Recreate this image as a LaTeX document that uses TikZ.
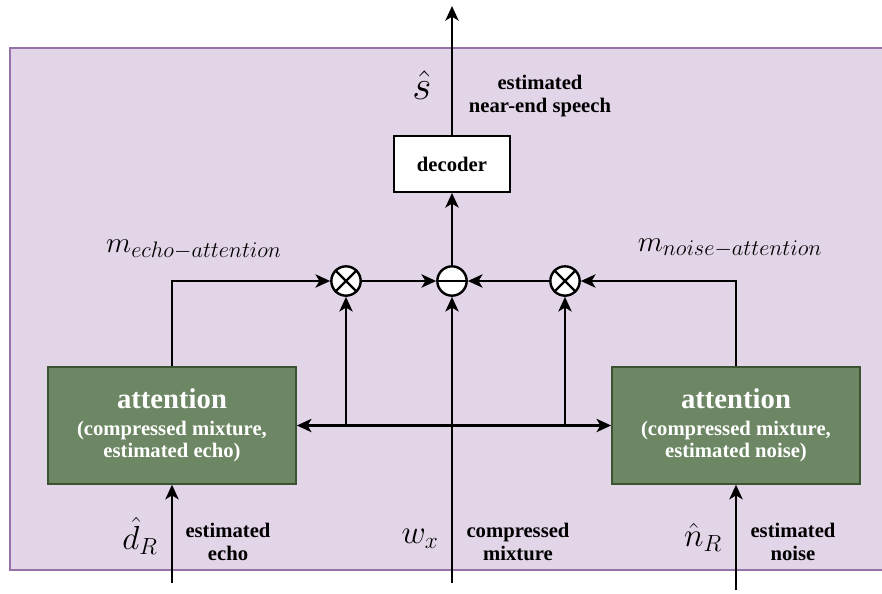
\RequirePackage{fix-cm}
\documentclass[tikz,border=0pt]{standalone}
\usepackage{fontspec}
\setmainfont{Liberation Serif}
\usetikzlibrary{arrows.meta}

% math sizes for the formula labels
\DeclareMathSizes{22}{22}{16.8}{12}
\DeclareMathSizes{25}{25}{17.5}{12.5}
\DeclareMathSizes{31}{31}{22}{16}

\definecolor{bgfill}{HTML}{E1D5E7}
\definecolor{bgline}{HTML}{9673A6}
\definecolor{attfill}{HTML}{6D8764}
\definecolor{attline}{HTML}{3A5431}

\tikzset{
  wire/.style={line width=1.6pt, black},
  arr/.style={wire, -{Stealth[length=11pt,width=10pt,inset=3pt]}},
  arrboth/.style={wire, {Stealth[length=11pt,width=10pt,inset=3pt]}-{Stealth[length=11pt,width=10pt,inset=3pt]}},
  opnode/.style={circle, draw=black, fill=white, line width=1.8pt, minimum size=22pt, inner sep=0pt},
  txt/.style={font=\bfseries\fontsize{15.5}{17}\selectfont, align=center, inner sep=0pt},
  mathlbl/.style={font=\fontsize{25}{27}\selectfont, inner sep=0pt, anchor=base},
  decbox/.style={draw=black, fill=white, line width=1.4pt, minimum width=87pt, minimum height=42pt,
    font=\bfseries\fontsize{15.5}{17}\selectfont},
  attbox/.style={draw=attline, fill=attfill, line width=1.3pt, minimum width=186pt, minimum height=87.5pt,
    text=white, align=center, inner sep=0pt, font=\bfseries\fontsize{15.5}{17}\selectfont}
}

\begin{document}
\begin{tikzpicture}[x=0.75pt, y=-0.75pt]
  \useasboundingbox (0,0) rectangle (882,593);

  % background panel
  \draw[draw=bgline, fill=bgfill, line width=1.6pt] (10,48) rectangle (886,570);

  % blocks
  \node[decbox] (dec) at (452,164) {decoder};
  \node[attbox] (attL) at (172,425.5)
    {{\fontsize{21.5}{20}\selectfont attention}\\[3pt](compressed mixture,\\estimated echo)};
  \node[attbox] (attR) at (736,425.5)
    {{\fontsize{21.5}{20}\selectfont attention}\\[3pt](compressed mixture,\\estimated noise)};

  % operator circles
  \node[opnode] (mulL) at (346,281) {};
  \node[opnode] (sub)  at (452,281) {};
  \node[opnode] (mulR) at (565,281) {};
  \draw[line width=1.8pt] (mulL.45) -- (mulL.225) (mulL.135) -- (mulL.315);
  \draw[line width=1.8pt] (mulR.45) -- (mulR.225) (mulR.135) -- (mulR.315);
  \draw[line width=1.8pt] (sub.west) -- (sub.east);

  % free ends of the inputs and the output
  \coordinate (out) at (452,6);
  \coordinate (inD) at (172,583);
  \coordinate (inW) at (452,583);
  \coordinate (inN) at (736,590);

  % connectors
  \draw[arr] (dec.north) -- (out);
  \draw[arr] (sub.north) -- (dec.south);
  \draw[arr] (mulL.east) -- (sub.west);
  \draw[arr] (mulR.west) -- (sub.east);
  \draw[arr] (attL.north) |- (mulL.west);
  \draw[arr] (attR.north) |- (mulR.east);
  \draw[arrboth] (attL.east) -- (attR.west);
  \draw[arr] (mulL.south |- attL.east) -- (mulL.south);
  \draw[arr] (mulR.south |- attR.west) -- (mulR.south);
  \draw[arr] (inW) -- (sub.south);
  \draw[arr] (inD) -- (attL.south);
  \draw[arr] (inN) -- (attR.south);

  % labels
  \node[mathlbl, font=\fontsize{31}{33}\selectfont] (lblS) at (422,99) {$\hat{s}$};
  \node[txt] (lblOut) at (540,96) {estimated\\near-end speech};
  \node[mathlbl, font=\fontsize{22}{24}\selectfont] (lblME) at (194,252) {$m_{echo\mathord{-}attention}$};
  \node[mathlbl, font=\fontsize{22}{24}\selectfont] (lblMN) at (730,251) {$m_{noise\mathord{-}attention}$};
  \node[mathlbl] (lblD) at (140,549) {$\hat{d}_R$};
  \node[txt] (lblDt) at (228,542) {estimated\\echo};
  \node[mathlbl] (lblW) at (420,543) {$w_x$};
  \node[txt] (lblWt) at (518,542) {compressed\\mixture};
  \node[mathlbl] (lblN) at (703,546) {$\hat{n}_R$};
  \node[txt] (lblNt) at (793,542) {estimated\\noise};
\end{tikzpicture}
\end{document}
